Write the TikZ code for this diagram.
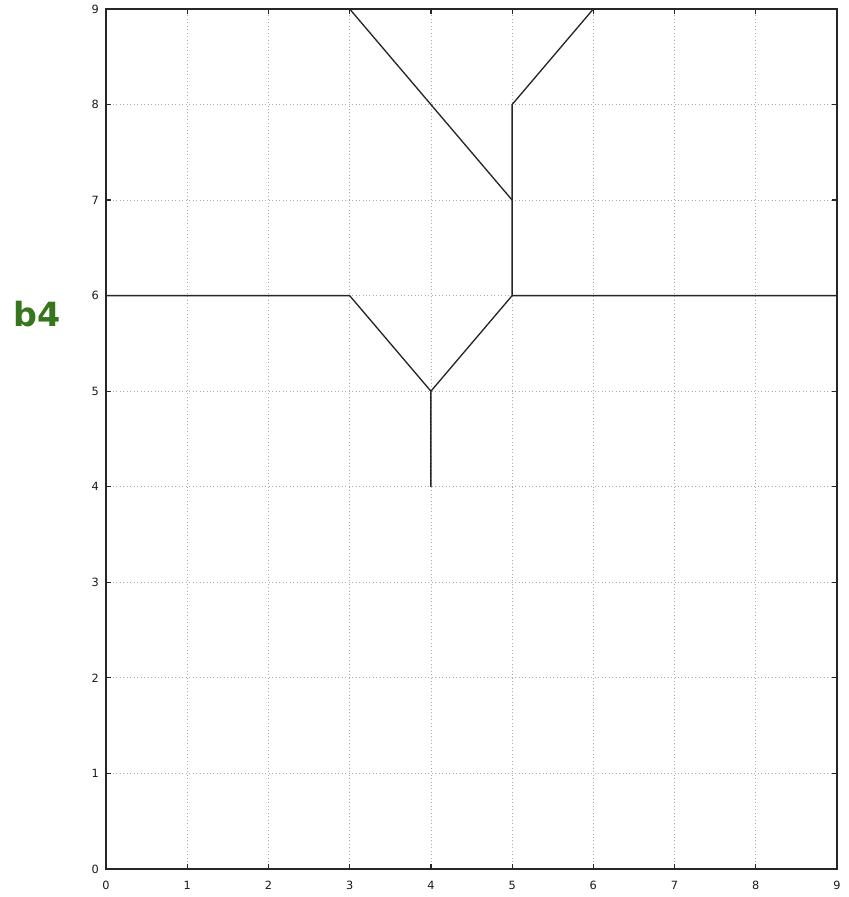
\documentclass[tikz,border=0pt]{standalone}
\usepackage{fontspec}
\setmainfont{DejaVu Sans}
\usetikzlibrary{positioning}
\definecolor{labgreen}{RGB}{56,118,29}
\tikzset{
  gridline/.style = {gray!65, dotted, line width=0.6pt},
  frameline/.style = {black!85, line width=0.9pt},
  ticklabel/.style = {font=\fontsize{8.5}{9}\selectfont, text=black!90, inner sep=1pt},
  skel/.style = {black!85, line width=1pt, line join=miter},
}
\begin{document}
\begin{tikzpicture}[x=60.92pt, y=71.67pt]
  \useasboundingbox (-1.305,-0.293) rectangle (9.136,9.094);

  % grid
  \foreach \i in {1,...,8} {
    \draw[gridline] (\i,0) -- (\i,9);
    \draw[gridline] (0,\i) -- (9,\i);
  }

  % frame
  \draw[frameline] (0,0) rectangle (9,9);

  % ticks and labels
  \foreach \i in {0,...,9} {
    \draw[frameline] (\i,0) -- ++(0,0.055);
    \draw[frameline] (\i,9) -- ++(0,-0.055);
    \draw[frameline] (0,\i) -- ++(0.065,0);
    \draw[frameline] (9,\i) -- ++(-0.065,0);
    \node[ticklabel] (xl\i) at (\i,-0.17) {\i};
    \node[ticklabel, anchor=east] (yl\i) at (-0.07,\i) {\i};
  }

  % title
  \node[font=\fontsize{25}{27}\selectfont\bfseries, text=labgreen] (name) at (-0.85,5.81) {b4};

  % skeleton
  \draw[skel] (0,6) -- (3,6) -- (4,5) -- (4,4);
  \draw[skel] (4,5) -- (5,6) -- (9,6);
  \draw[skel] (5,6) -- (5,7) -- (3,9);
  \draw[skel] (5,7) -- (5,8) -- (6,9);
\end{tikzpicture}
\end{document}
